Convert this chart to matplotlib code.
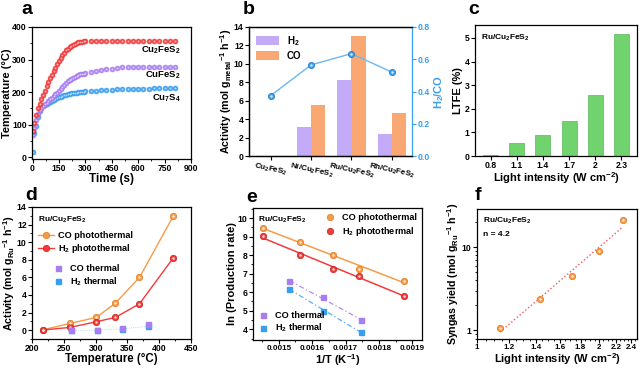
import matplotlib
matplotlib.use("Agg")
import matplotlib.pyplot as plt
from matplotlib.ticker import FixedLocator, NullFormatter, AutoMinorLocator
import numpy as np

plt.rcParams['font.family'] = ['Liberation Sans', 'DejaVu Sans']
plt.rcParams['font.weight'] = 'bold'
plt.rcParams['axes.labelweight'] = 'bold'
plt.rcParams['mathtext.fontset'] = 'custom'
plt.rcParams['mathtext.rm'] = 'Liberation Sans:bold'
plt.rcParams['mathtext.bf'] = 'Liberation Sans:bold'
plt.rcParams['mathtext.it'] = 'Liberation Sans:bold'
plt.rcParams['mathtext.default'] = 'bf'
plt.rcParams['axes.linewidth'] = 0.9
plt.rcParams['xtick.major.size'] = 2.6
plt.rcParams['ytick.major.size'] = 2.6
plt.rcParams['xtick.minor.size'] = 1.5
plt.rcParams['ytick.minor.size'] = 1.5
plt.rcParams['xtick.major.pad'] = 1.2
plt.rcParams['ytick.major.pad'] = 1.2

# ---- panel a: temperature vs time
t_dense = list(range(0, 301, 10))
t_sparse = list(range(330, 811, 30))
t_all = t_dense + t_sparse
temp_cu2fes2 = [80, 105, 130, 150, 165, 178, 192, 205, 218, 230, 242, 253, 264, 275, 285,
                295, 304, 313, 321, 328, 334, 339, 343, 346, 349, 351, 353, 354, 355, 356, 357,
                357, 357, 357, 357, 357, 357, 357, 357, 357, 357, 357, 357, 357, 357, 357, 357, 357]
temp_cufes2 = [70, 90, 115, 133, 145, 152, 158, 163, 168, 173, 178, 183, 188, 194, 199,
               205, 211, 217, 223, 228, 233, 237, 241, 245, 248, 251, 253, 255, 256, 257, 258,
               261, 264, 267, 270, 272, 274, 276, 277, 277, 277, 277, 277, 277, 277, 277, 277, 277]
temp_cu7s4 = [15, 75, 97, 125, 143, 152, 157, 160, 163, 166, 169, 172, 175, 178, 181,
              184, 186, 188, 190, 192, 194, 195, 196, 197, 198, 199, 200, 201, 202, 202, 203,
              204, 205, 206, 207, 208, 209, 210, 210, 211, 211, 211, 211, 212, 212, 212, 212, 212]

# ---- panel b: activity of catalysts
cats = ['Cu$_2$FeS$_2$', 'Ni/Cu$_2$FeS$_2$', 'Ru/Cu$_2$FeS$_2$', 'Rh/Cu$_2$FeS$_2$']
h2_act = [0.0, 3.1, 8.25, 2.4]
co_act = [0.05, 5.5, 13.0, 4.7]
h2_co = [0.375, 0.565, 0.635, 0.52]

# ---- panel c: LTFE vs light intensity
light_c = ['0.8', '1.1', '1.4', '1.7', '2', '2.3']
ltfe = [0.03, 0.53, 0.9, 1.5, 2.6, 5.15]

# ---- panel d: activity vs temperature
temp_photo = [217, 260, 301, 331, 369, 422]
co_photo = [0.05, 0.77, 1.45, 3.06, 6.0, 12.95]
h2_photo = [0.02, 0.32, 0.96, 1.45, 3.0, 8.2]
temp_therm = [262, 302, 342, 383]
co_therm = [0.0, 0.06, 0.3, 0.68]
h2_therm = [0.0, 0.0, 0.15, 0.45]

# ---- panel e: Arrhenius plot
invT_photo = [0.001452, 0.001565, 0.001664, 0.001741, 0.001876]
ln_co_photo = [9.46, 8.70, 8.02, 7.24, 6.61]
invT_photo_h2 = [0.001452, 0.001565, 0.001664, 0.001741, 0.001876]
ln_h2_photo = [9.01, 8.02, 7.24, 6.88, 5.80]
invT_therm = [0.001532, 0.001632, 0.001745]
ln_co_therm = [6.58, 5.73, 4.50]
ln_h2_therm = [6.18, 5.01, 3.87]

# ---- panel f: syngas yield vs light intensity (log-log)
light_f = [1.14, 1.43, 1.71, 2.0, 2.29]
syngas = [1.07, 2.38, 4.47, 9.1, 21.2]

RED = '#F23A3A'
PURPLE = '#A77DF2'
BLUE = '#3A9EF0'
ORANGE = '#F89B45'
LBLUE = '#6CB8F2'

fig = plt.figure(figsize=(6.4, 3.69), dpi=100)
TL = 6.2
LAB = 8.0


def style(ax):
    ax.tick_params(labelsize=TL, width=0.8)
    ax.tick_params(which='minor', width=0.6)
    for lab in ax.get_xticklabels() + ax.get_yticklabels():
        lab.set_fontweight('bold')


def panel_letter(x, y, s):
    fig.text(x / 640, 1 - y / 369, s, fontsize=14, fontweight='bold', ha='center', va='center')


# ---------- a
ax = fig.add_axes([32 / 640, 1 - 159 / 369, 159 / 640, 132 / 369])
for temps, col in [(temp_cu7s4, BLUE), (temp_cufes2, PURPLE), (temp_cu2fes2, RED)]:
    ax.plot(t_all, temps, 'o', ms=3.6, mfc=col, mec=col, mew=0.4, alpha=0.9)
    ax.plot(t_all, temps, 'o', ms=1.3, mfc='white', mec='none', alpha=0.6)
ax.set_xlim(-3, 900)
ax.set_ylim(-5, 400)
ax.set_xticks([0, 150, 300, 450, 600, 750, 900])
ax.set_yticks([0, 100, 200, 300, 400])
ax.xaxis.set_minor_locator(AutoMinorLocator(2))
ax.yaxis.set_minor_locator(AutoMinorLocator(2))
ax.set_xlabel('Time (s)', fontsize=LAB + 0.5, labelpad=0)
ax.set_ylabel('Temperature (°C)', fontsize=LAB, labelpad=0)
ax.text(840, 328, 'Cu$_2$FeS$_2$', fontsize=6.8, ha='right', va='center')
ax.text(840, 252, 'CuFeS$_2$', fontsize=6.8, ha='right', va='center')
ax.text(840, 181, 'Cu$_7$S$_4$', fontsize=6.8, ha='right', va='center')
style(ax)
panel_letter(27, 10, 'a')

# ---------- b
ax = fig.add_axes([249 / 640, 1 - 156 / 369, 163 / 640, 129 / 369])
xb = np.arange(len(cats))
w = 0.35
ax.bar(xb - w / 2, h2_act, w, color='#C3ABF7', label='H$_2$')
ax.bar(xb + w / 2, co_act, w, color='#F9A874', label='CO')
ax.set_xlim(-0.54, 3.5)
ax.set_ylim(0, 14)
ax.set_yticks(range(0, 15, 2))
ax.set_xticks(xb)
ax.set_xticklabels(cats, rotation=-12, ha='center')
ax.set_ylabel('Activity (mol g$_{metal}$$^{-1}$ h$^{-1}$)', fontsize=LAB - 0.3, labelpad=0)
leg = ax.legend(loc='upper left', fontsize=7, frameon=False, handlelength=2.4, handleheight=1.0,
                borderaxespad=0.3, labelspacing=0.3)
ax.spines['right'].set_visible(False)
style(ax)
for lab in ax.get_xticklabels():
    lab.set_fontsize(5.8)
ax2 = ax.twinx()
ax2.plot(xb, h2_co, '-', color=LBLUE, lw=1.0)
ax2.plot(xb, h2_co, 'o', ms=4.5, mfc=BLUE, mec='#1E78C8', mew=0.5)
ax2.plot(xb, h2_co, 'o', ms=1.8, mfc='white', mec='none', alpha=0.8)
ax2.set_ylim(0, 0.8)
ax2.set_yticks([0.0, 0.2, 0.4, 0.6, 0.8])
ax2.spines['right'].set_color(BLUE)
ax2.tick_params(axis='y', colors=BLUE)
ax2.set_ylabel('H$_2$/CO', fontsize=LAB, color=BLUE, labelpad=2)
style(ax2)
panel_letter(249, 9, 'b')

# ---------- c
ax = fig.add_axes([475 / 640, 1 - 156 / 369, 162 / 640, 131 / 369])
xc = np.arange(len(light_c))
ax.bar(xc, ltfe, 0.57, color='#70D36E', edgecolor='#5AB85A', linewidth=0.5)
ax.set_xlim(-0.6, 5.6)
ax.set_ylim(0, 5.55)
ax.set_xticks(xc)
ax.set_xticklabels(light_c)
ax.set_yticks(range(0, 6))
ax.set_xlabel('Light intensity (W cm$^{-2}$)', fontsize=LAB, labelpad=0)
ax.set_ylabel('LTFE (%)', fontsize=LAB, labelpad=1)
ax.text(0.04, 0.94, 'Ru/Cu$_2$FeS$_2$', transform=ax.transAxes, fontsize=6.0, va='top')
style(ax)
panel_letter(474, 10, 'c')

# ---------- d
ax = fig.add_axes([32 / 640, 1 - 339 / 369, 159 / 640, 132 / 369])
l1, = ax.plot(temp_photo, co_photo, '-o', color=ORANGE, lw=1.0, ms=4.6, mfc=ORANGE, mec='#E07A20', mew=0.5)
l2, = ax.plot(temp_photo, h2_photo, '-o', color=RED, lw=1.0, ms=4.6, mfc=RED, mec='#C82020', mew=0.5)
ax.plot(temp_photo, co_photo, 'o', ms=1.8, mfc='white', mec='none', alpha=0.8)
ax.plot(temp_photo, h2_photo, 'o', ms=1.8, mfc='white', mec='none', alpha=0.8)
ax.plot(temp_therm, h2_therm, ':', color=BLUE, lw=0.6, alpha=0.5)
s2, = ax.plot(temp_therm, h2_therm, 's', ms=3.6, color=BLUE, ls='none')
s1, = ax.plot(temp_therm, co_therm, 's', ms=3.6, color=PURPLE, ls='none')
ax.set_xlim(200, 450)
ax.set_ylim(-1, 14)
ax.set_xticks([200, 250, 300, 350, 400, 450])
ax.set_yticks(range(0, 15, 2))
ax.xaxis.set_minor_locator(AutoMinorLocator(2))
ax.yaxis.set_minor_locator(AutoMinorLocator(2))
ax.set_xlabel('Temperature (°C)', fontsize=LAB + 0.3, labelpad=0)
ax.set_ylabel('Activity (mol g$_{Ru}$$^{-1}$ h$^{-1}$)', fontsize=LAB - 0.3, labelpad=0)
ax.text(0.04, 0.94, 'Ru/Cu$_2$FeS$_2$', transform=ax.transAxes, fontsize=6.0, va='top')
lg1 = ax.legend([l1, l2], ['CO photothermal', 'H$_2$ photothermal'], loc='upper left',
                bbox_to_anchor=(0.0, 0.86), fontsize=6.6, frameon=False, handlelength=1.8,
                labelspacing=0.25, handletextpad=0.4, borderaxespad=0.2)
ax.add_artist(lg1)
ax.legend([s1, s2], ['CO thermal', 'H$_2$ thermal'], loc='upper left',
          bbox_to_anchor=(0.1, 0.61), fontsize=6.6, frameon=False, handlelength=1.0,
          labelspacing=0.25, handletextpad=0.8, borderaxespad=0.2)
style(ax)
panel_letter(31, 196, 'd')

# ---------- e
ax = fig.add_axes([253 / 640, 1 - 340 / 369, 169 / 640, 132 / 369])
for xs, ys, col, ls in [(invT_photo, ln_co_photo, ORANGE, '-'), (invT_photo_h2, ln_h2_photo, RED, '-'),
                        (invT_therm, ln_co_therm, '#B48CF2', (0, (4, 2, 1, 2))),
                        (invT_therm, ln_h2_therm, '#5AAEF2', (0, (4, 2, 1, 2)))]:
    k, b0 = np.polyfit(xs, ys, 1)
    xx = np.array([min(xs), max(xs)])
    ax.plot(xx, k * xx + b0, color=col, lw=1.1 if ls == '-' else 0.9, ls=ls)
e1, = ax.plot(invT_photo, ln_co_photo, 'o', ms=4.6, mfc=ORANGE, mec='#E07A20', mew=0.5)
e2, = ax.plot(invT_photo_h2, ln_h2_photo, 'o', ms=4.6, mfc=RED, mec='#C82020', mew=0.5)
ax.plot(invT_photo, ln_co_photo, 'o', ms=1.8, mfc='white', mec='none', alpha=0.8)
ax.plot(invT_photo_h2, ln_h2_photo, 'o', ms=1.8, mfc='white', mec='none', alpha=0.8)
e3, = ax.plot(invT_therm, ln_co_therm, 's', ms=3.6, color=PURPLE, ls='none')
e4, = ax.plot(invT_therm, ln_h2_therm, 's', ms=3.6, color=BLUE, ls='none')
ax.set_xlim(0.001423, 0.001929)
ax.set_ylim(3.42, 10.54)
ax.set_xticks([0.0015, 0.0016, 0.0017, 0.0018, 0.0019])
ax.set_xticklabels(['0.0015', '0.0016', '0.0017', '0.0018', '0.0019'])
ax.set_yticks(range(4, 11))
ax.xaxis.set_minor_locator(AutoMinorLocator(2))
ax.yaxis.set_minor_locator(AutoMinorLocator(2))
ax.set_xlabel('1/T (K$^{-1}$)', fontsize=LAB, labelpad=0)
ax.set_ylabel('ln (Production rate)', fontsize=LAB, labelpad=1)
ax.text(0.03, 0.95, 'Ru/Cu$_2$FeS$_2$', transform=ax.transAxes, fontsize=6.0, va='top')
lg = ax.legend([e1, e2], ['CO photothermal', 'H$_2$ photothermal'], loc='upper right',
               fontsize=6.6, frameon=False, handlelength=1.0, labelspacing=0.25,
               handletextpad=0.8, borderaxespad=0.2)
ax.add_artist(lg)
ax.legend([e3, e4], ['CO thermal', 'H$_2$ thermal'], loc='lower left', fontsize=6.6,
          frameon=False, handlelength=1.0, labelspacing=0.25, handletextpad=0.8, borderaxespad=0.2)
style(ax)
ax.tick_params(axis='x', labelsize=TL - 0.4)
panel_letter(252, 197, 'e')

# ---------- f
ax = fig.add_axes([477 / 640, 1 - 339 / 369, 160 / 640, 130 / 369])
ax.set_xscale('log')
ax.set_yscale('log')
kf, bf = np.polyfit(np.log10(light_f), np.log10(syngas), 1)
xf = np.array([min(light_f), max(light_f)])
ax.plot(xf, 10 ** (kf * np.log10(xf) + bf), ':', color='#F25A5A', lw=1.0)
ax.plot(light_f, syngas, 'o', ms=4.6, mfc=ORANGE, mec='#E07A20', mew=0.5)
ax.plot(light_f, syngas, 'o', ms=1.8, mfc='white', mec='none', alpha=0.8)
ax.set_xlim(1.0, 2.48)
ax.set_ylim(0.79, 29)
xt = [1, 1.2, 1.4, 1.6, 1.8, 2.0, 2.2, 2.4]
ax.xaxis.set_major_locator(FixedLocator(xt))
ax.set_xticklabels(['1', '1.2', '1.4', '1.6', '1.8', '2', '2.2', '2.4'])
ax.xaxis.set_minor_locator(FixedLocator(np.arange(1.05, 2.46, 0.05)))
ax.xaxis.set_minor_formatter(NullFormatter())
ax.yaxis.set_major_locator(FixedLocator([1, 10]))
ax.set_yticklabels(['1', '10'])
ax.set_xlabel('Light intensity (W cm$^{-2}$)', fontsize=LAB, labelpad=0)
ax.set_ylabel('Syngas yield (mol g$_{Ru}$$^{-1}$ h$^{-1}$)', fontsize=LAB - 0.3, labelpad=1)
ax.text(0.04, 0.95, 'Ru/Cu$_2$FeS$_2$', transform=ax.transAxes, fontsize=6.0, va='top')
ax.text(0.04, 0.83, 'n = 4.2', transform=ax.transAxes, fontsize=6.0, va='top')
style(ax)
ax.tick_params(axis='x', labelsize=TL - 0.4)
panel_letter(478, 196, 'f')

fig.savefig('out.png', dpi=100)
